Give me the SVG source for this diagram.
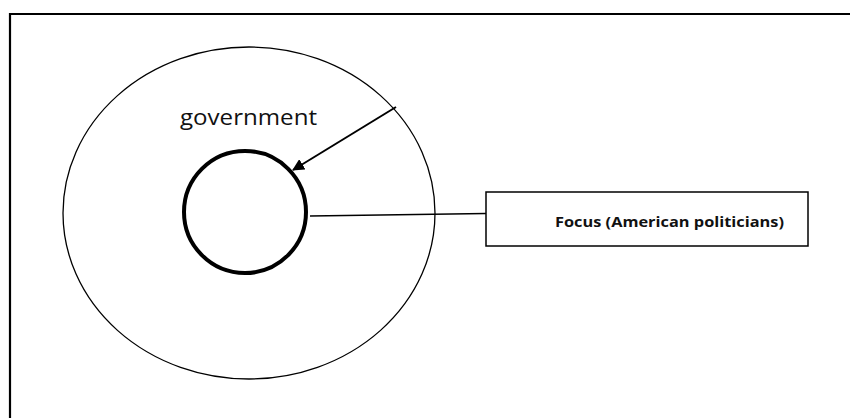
<svg xmlns="http://www.w3.org/2000/svg" width="850" height="418" viewBox="0 0 850 418">
<defs>
<style>
.thin{fill:none;stroke:#000;stroke-width:1.3}
.lbl{font-family:"Open Sans","Liberation Sans",sans-serif;fill:#111}
</style>
<marker id="ah" markerWidth="12" markerHeight="12" refX="11" refY="6" orient="auto" markerUnits="userSpaceOnUse" viewBox="0 0 12 12">
<path d="M0,0 L12,6 L0,12 z" fill="#000"/>
</marker>
</defs>
<rect width="850" height="418" fill="#fff"/>
<path d="M10,430 V14 H860" fill="none" stroke="#000" stroke-width="2.2"/>
<g id="government">
<ellipse cx="249" cy="213" rx="186" ry="166" class="thin"/>
<text class="lbl" x="180" y="125" font-size="22" textLength="137" lengthAdjust="spacingAndGlyphs">government</text>
</g>
<g id="focus-circle">
<circle cx="245" cy="212" r="61" fill="none" stroke="#000" stroke-width="4"/>
</g>
<g id="focus-box">
<rect x="486" y="192" width="322" height="54" fill="#fff" stroke="#000" stroke-width="1.5"/>
<text class="lbl" x="555" y="227" font-size="14" font-weight="bold" textLength="229" lengthAdjust="spacingAndGlyphs">Focus (American politicians)</text>
</g>
<g id="connectors">
<line x1="396" y1="107" x2="293" y2="170" stroke="#000" stroke-width="2" marker-end="url(#ah)"/>
<line x1="310" y1="216" x2="486" y2="213.5" stroke="#000" stroke-width="1.3"/>
</g>
</svg>
